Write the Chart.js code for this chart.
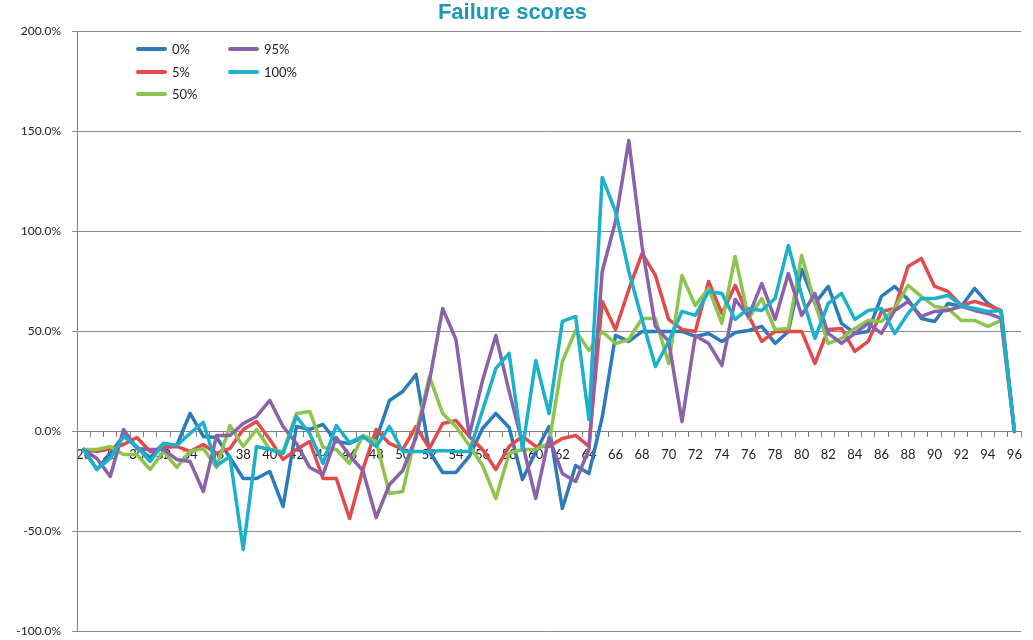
<!DOCTYPE html>
<html>
<head>
<meta charset="utf-8">
<script src="https://cdn.jsdelivr.net/npm/chart.js@4/dist/chart.umd.min.js"></script>
<style>
  html, body { margin: 0; padding: 0; background: #fff; }
  #wrap { width: 1033px; height: 640px; }
</style>
</head>
<body>
<div id="wrap"><canvas id="chart" width="1033" height="640"></canvas></div>
<script>
// categories 26..96
const categories = [
  26, 27, 28, 29, 30, 31, 32, 33, 34, 35, 36, 37, 38, 39, 40, 41, 42, 43,
  44, 45, 46, 47, 48, 49, 50, 51, 52, 53, 54, 55, 56, 57, 58, 59, 60, 61,
  62, 63, 64, 65, 66, 67, 68, 69, 70, 71, 72, 73, 74, 75, 76, 77, 78, 79,
  80, 81, 82, 83, 84, 85, 86, 87, 88, 89, 90, 91, 92, 93, 94, 95, 96
];

// values in percent
const s0 = [
  -9, -19, -11, -2, -8, -13, -6, -7, 9, -2.5, -3, -13, -23.5, -23.5, -20, -37.5, 2.5, 1,
  3.5, -5, -6, -3, -4, 15.5, 20, 28.5, -10, -20.5, -20.5, -12.5, 1.5, 9, 2, -24, -10, 2.5,
  -38.5, -17, -21, 7, 48, 45, 50, 50, 50, 50, 47.5, 49, 45, 49.5, 50.5, 52.5, 44, 50,
  81, 64, 72.5, 54, 49, 50, 67.5, 72.5, 66, 56.5, 55, 64, 62.5, 71.5, 64, 60, 0
];
const s5 = [
  -9, -10, -8.5, -6.5, -3, -10, -8, -7.5, -10, -6.5, -11, -8.5, 1, 5, -4, -14, -9, -5,
  -23.5, -23.5, -43.5, -19, 1, -6, -9, 2.5, -8.5, 4, 5.5, -2.5, -9, -19, -7.5, -2.5, -7.5, -7.5,
  -3.5, -2, -7.5, 65, 51, 71, 89, 78, 56, 51, 50, 75, 59, 73, 58, 45, 50, 50,
  50, 34, 51, 51.5, 40, 45, 60, 61.5, 82.5, 86.5, 72.5, 70, 63, 65, 63, 60.5, 0
];
const s50 = [
  -9, -9, -7.5, -11.5, -11.5, -19, -10, -18, -10, -8.5, -18, 3, -7.5, 1, -9, -10, 9, 10,
  -8, -9, -16, -2, -5, -31, -30, -1, 27.5, 9, 2.5, -7, -17, -33.5, -11, -9, -9, -6,
  35, 50.5, 40.5, 50, 44, 46, 56.5, 56.5, 34, 78, 63, 71.5, 54, 87.5, 56.5, 66.5, 51, 51.5,
  88, 64, 44, 46.5, 51.5, 55.5, 55, 61.5, 73, 67.5, 62.5, 61.5, 55.5, 55.5, 52.5, 55.5, 0
];
const s95 = [
  -9, -13.5, -22.5, 1, -8.5, -9, -9, -14, -15, -30, -2, -2, 4, 7.5, 15.5, 2.5, -6, -18,
  -21.5, -3, -12, -19.5, -43, -26.5, -19.5, -3, 25, 61.5, 46, -2, 25.5, 48, 20, -6, -33.5, -3,
  -21, -25, -9, 80, 105, 145.5, 92.5, 52.5, 45, 5, 48, 44, 33, 66, 57.5, 74, 56, 79,
  58, 69, 49, 44, 49, 54, 49, 60.5, 65, 57.5, 60, 60.5, 62.5, 60.5, 59, 56.5, 0
];
const s100 = [
  -9, -19, -13.5, -2.5, -7.5, -15, -6, -7, -1, 4.5, -17, -12.5, -59, -7.5, -9, -11, 7.5, -1,
  -16, 3, -5.5, -2.5, -7.5, 2.5, -10, -10, -10, -9.5, -10, -10, 10.5, 31.5, 39, -9, 35.5, 9,
  55, 57.5, 6, 127, 110, 80, 56, 32.5, 45, 60, 58, 70, 69, 56, 61.5, 60.5, 66.5, 93,
  68, 46.5, 64, 69, 56, 60.5, 61.5, 49, 59, 66.5, 66.5, 68, 63, 61.5, 60, 60.5, 0
];

const seriesNames = ['0%', '5%', '50%', '95%', '100%'];
const seriesColors = ['#2b7bba', '#e34a4b', '#8dc450', '#8b62a9', '#1bb0cc'];
const seriesValues = [s0, s5, s50, s95, s100];

const yTicks = [-100, -50, 0, 50, 100, 150, 200];

const labelFont = '"Lato", "Open Sans", sans-serif';

// legend laid out in columns like the original
const legendPlugin = {
  id: 'colLegend',
  afterDraw(chart) {
    const ctx = chart.ctx;
    const slots = [[138, 49], [138, 72], [138, 94], [230, 49], [230, 72]];
    ctx.save();
    ctx.font = '13px ' + labelFont;
    ctx.textBaseline = 'middle';
    chart.data.datasets.forEach((ds, i) => {
      const [x, y] = slots[i];
      ctx.strokeStyle = ds.borderColor;
      ctx.lineWidth = 4;
      ctx.lineCap = 'round';
      ctx.beginPath();
      ctx.moveTo(x, y);
      ctx.lineTo(x + 27, y);
      ctx.stroke();
      ctx.fillStyle = '#222';
      ctx.fillText(ds.label, x + 34, y + 1);
    });
    ctx.restore();
  }
};

const datasets = seriesNames.map((name, i) => ({
  label: name,
  data: seriesValues[i],
  borderColor: seriesColors[i],
  backgroundColor: seriesColors[i],
  borderWidth: 3.5,
  pointRadius: 0,
  tension: 0,
  borderJoinStyle: 'round',
  borderCapStyle: 'round',
  order: seriesNames.length - i
}));

new Chart(document.getElementById('chart'), {
  type: 'line',
  data: { labels: categories, datasets: datasets },
  options: {
    responsive: false,
    animation: false,
    devicePixelRatio: 1,
    layout: { padding: { left: 0, right: 8, top: 0, bottom: 8.5 } },
    plugins: {
      legend: { display: false },
      tooltip: { enabled: false },
      title: {
        display: true,
        text: 'Failure scores',
        color: '#1b99b7',
        font: { family: '"Liberation Sans", Arial, sans-serif', size: 22, weight: 'bold' },
        padding: { top: 0, bottom: 5 }
      }
    },
    scales: {
      x: {
        type: 'category',
        position: { y: 0 },
        offset: true,
        // axis sits on the 0% line, so it takes no room at the bottom
        afterFit: (scale) => { scale.height = 0; },
        grid: {
          offset: true,
          drawOnChartArea: false,
          drawTicks: true,
          tickLength: 5,
          color: '#808080'
        },
        border: { display: true, color: '#808080', width: 1 },
        ticks: {
          autoSkip: false,
          maxRotation: 0,
          padding: 11,
          color: '#222',
          font: { family: labelFont, size: 13 },
          callback: (v, i) => (i % 2 === 0 ? String(categories[i]) : '')
        }
      },
      y: {
        min: -100,
        max: 200,
        afterBuildTicks: (scale) => { scale.ticks = yTicks.map(v => ({ value: v })); },
        afterFit: (scale) => {
          scale.width = 77;
          // tick padding would otherwise push the plot bottom up
          scale.paddingTop = 0;
          scale.paddingBottom = 0;
        },
        grid: { color: '#8a8a8a', lineWidth: 1, tickLength: 5 },
        border: { display: true, color: '#808080', width: 1 },
        ticks: {
          color: '#222',
          padding: 11,
          font: { family: labelFont, size: 12 },
          callback: (v) => v.toFixed(1) + '%'
        }
      }
    }
  },
  plugins: [legendPlugin]
});
</script>
</body>
</html>
